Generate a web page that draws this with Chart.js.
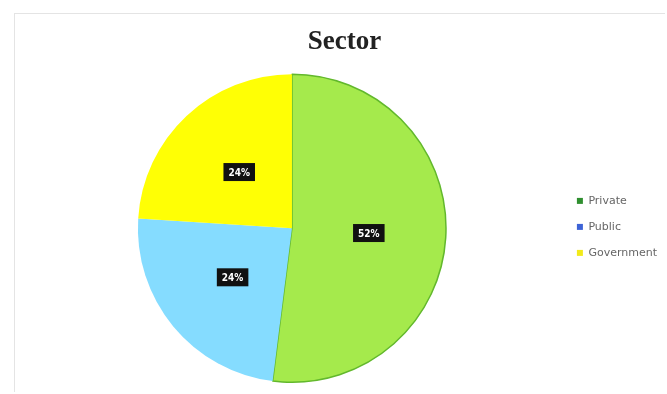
<!DOCTYPE html>
<html>
<head>
<meta charset="utf-8">
<script src="https://cdn.jsdelivr.net/npm/chart.js@4.4.0/dist/chart.umd.min.js"></script>
<style>
  html, body { margin: 0; padding: 0; background: #fff; }
  #wrap { position: relative; width: 667px; height: 394px; }
  #frame { position: absolute; left: 14px; top: 13px; width: 650px; height: 378px;
           border: 1px solid #e4e4e4; border-right: none; border-bottom: none; pointer-events: none; }
  canvas { position: absolute; left: 0; top: 0; }
</style>
</head>
<body>
<div id="wrap">
  <canvas id="sector-chart" width="667" height="394"></canvas>
  <div id="frame"></div>
</div>
<script>
var labels = ["Private", "Public", "Government"];
var shares = [52, 24, 24];
var sliceColors = ["#a5ea4c", "#85dcff", "#ffff05"];
var legendColors = ["#2f8f2f", "#3d63d6", "#f2ea1a"];

// black boxes with the percentage in the middle of each slice
var pctLabels = {
    id: 'pctLabels',
    afterDatasetsDraw: function(chart) {
        var ctx = chart.ctx;
        var meta = chart.getDatasetMeta(0);
        ctx.save();
        ctx.font = 'bold 10px "DejaVu Sans Condensed", "DejaVu Sans"';
        ctx.textAlign = 'center';
        ctx.textBaseline = 'middle';
        meta.data.forEach(function(arc, i) {
            var p = arc.tooltipPosition();
            var txt = shares[i] + '%';
            var w = ctx.measureText(txt).width + 10;
            var h = 18;
            ctx.fillStyle = '#111';
            ctx.fillRect(p.x - w / 2, p.y - h / 2, w, h);
            ctx.fillStyle = '#fff';
            ctx.fillText(txt, p.x, p.y + 1);
        });
        ctx.restore();
    }
};

var ctx = document.getElementById('sector-chart');
var sectorChart = new Chart(ctx, {
    type: 'pie',
    data: {
        labels: labels,
        datasets: [{
            data: shares,
            backgroundColor: sliceColors,
            borderColor: ["#62b82c", "#85dcff", "#ffff05"],
            borderWidth: [1.5, 0, 0]
        }]
    },
    options: {
        responsive: false,
        animation: false,
        layout: { padding: { left: 22, right: 0, top: 0, bottom: 11 } },
        plugins: {
            title: {
                display: true,
                text: 'Sector',
                color: '#222',
                font: { family: '"Liberation Serif"', size: 27, weight: 'bold' },
                padding: { top: 26, bottom: 15 }
            },
            legend: {
                position: 'right',
                title: { display: true, text: ' ', font: { size: 9 }, padding: { top: 60, bottom: 0 } },
                labels: {
                    boxWidth: 6,
                    boxHeight: 6,
                    padding: 15,
                    color: '#555',
                    font: { family: '"DejaVu Sans"', size: 11 },
                    generateLabels: function(chart) {
                        return labels.map(function(l, i) {
                            return { text: l, fillStyle: legendColors[i], strokeStyle: legendColors[i],
                                     lineWidth: 0, index: i, hidden: false };
                        });
                    }
                }
            },
            tooltip: { enabled: false }
        }
    },
    plugins: [pctLabels]
});
</script>
</body>
</html>
